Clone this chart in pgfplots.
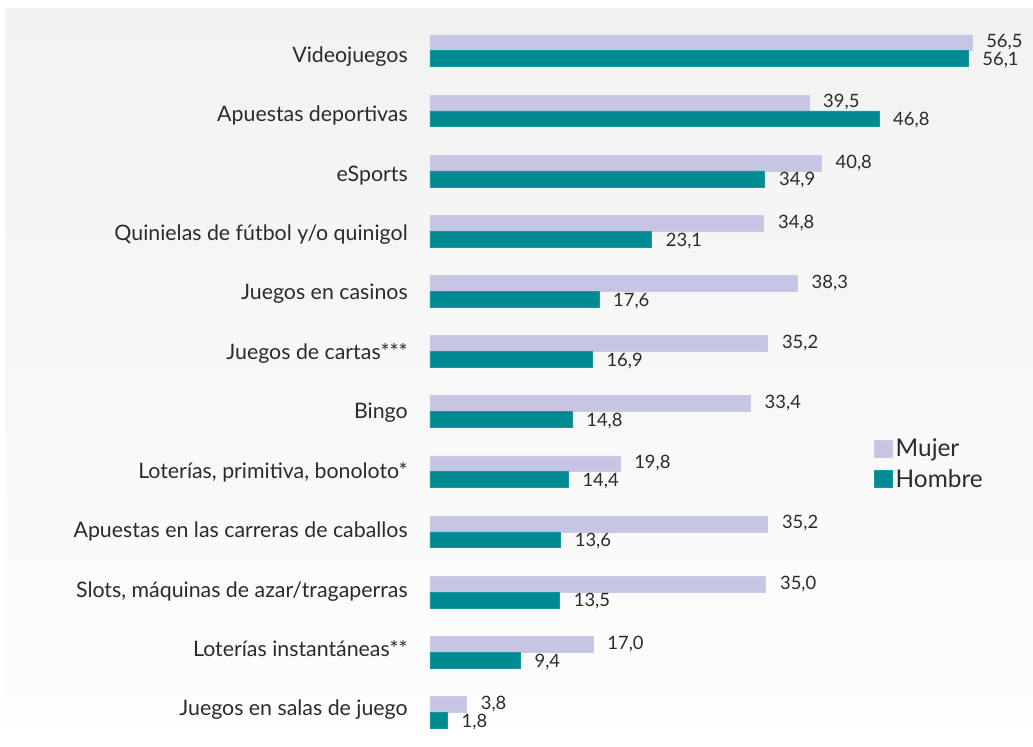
\documentclass[border=0pt]{standalone}
\usepackage{fontspec}
\setmainfont{Lato}
\usepackage{pgfplots}
\pgfplotsset{compat=1.18}
\definecolor{mujer}{HTML}{C6C5E3}
\definecolor{hombre}{HTML}{008B93}
\definecolor{txt}{HTML}{2B2B2B}
\definecolor{bgtop}{HTML}{F2F2F2}
\definecolor{bgbot}{HTML}{FDFDFD}
\begin{document}
\begin{tikzpicture}
\fill[white] (0pt,0pt) rectangle (774.75pt,560.25pt);
\shade[top color=bgtop, bottom color=bgbot] (3.75pt,14.25pt) rectangle (774.75pt,553.5pt);
\begin{axis}[
  at={(322.5pt,3.45pt)}, anchor=south west,
  scale only axis, width=431.55pt, height=541.35pt,
  xbar, bar width=11.85pt,
  xmin=0, xmax=60, ymin=-0.5, ymax=11.5,
  axis line style={draw=none}, tick style={draw=none}, major tick length=0pt,
  xtick=\empty, ytick={0,...,11},
  yticklabels={Juegos en salas de juego, Loterías instantáneas**, {Slots, máquinas de azar/tragaperras}, Apuestas en las carreras de caballos, {Loterías, primitiva, bonoloto*}, Bingo, Juegos de cartas***, Juegos en casinos, Quinielas de fútbol y/o quinigol, eSports, Apuestas deportivas, Videojuegos},
  yticklabel style={font=\fontsize{16}{18}\selectfont, text=txt, anchor=base east, inner sep=0pt, xshift=-16.5pt, yshift={-5.7pt-(\ticknum-5.5)*0.55pt}},
  /pgf/number format/assume math mode=true,
  nodes near coords,
  nodes near coords style={/pgf/number format/use comma, /pgf/number format/fixed, /pgf/number format/fixed zerofill, /pgf/number format/precision=1, /pgf/number format/assume math mode=true, font=\fontsize{13.8}{16}\selectfont, text=txt, anchor=west, inner ysep=0pt, xshift=7.3pt},
  legend style={draw=none, fill=none, at={(rel axis cs:0.772,0.425)}, anchor=north west, font=\fontsize{18.3}{21}\selectfont, text=txt, row sep=4pt, inner sep=0pt, /tikz/every even column/.append style={column sep=7.5pt}},
  legend cell align=left,
  legend image code/.code={\fill[#1] (0pt,-6.5pt) rectangle (13.5pt,6.5pt);},
]
\addplot[fill=mujer, draw=mujer!90!white, bar shift=5.93pt, every node near coord/.append style={yshift=0.3pt}] coordinates {
(56.5,11) (39.5,10) (40.8,9) (34.8,8) (38.3,7) (35.2,6) (33.4,5) (19.8,4) (35.2,3) (35.0,2) (17.0,1) (3.8,0)};
\addlegendentry{Mujer}
\addplot[fill=hombre, draw=hombre!90!white, bar shift=-5.93pt, every node near coord/.append style={yshift=-1.2pt}] coordinates {
(56.1,11) (46.8,10) (34.9,9) (23.1,8) (17.6,7) (16.9,6) (14.8,5) (14.4,4) (13.6,3) (13.5,2) (9.4,1) (1.8,0)};
\addlegendentry{Hombre}
\end{axis}
\pgfresetboundingbox
\path (0pt,0pt) rectangle (774.75pt,560.25pt);
\end{tikzpicture}
\end{document}
